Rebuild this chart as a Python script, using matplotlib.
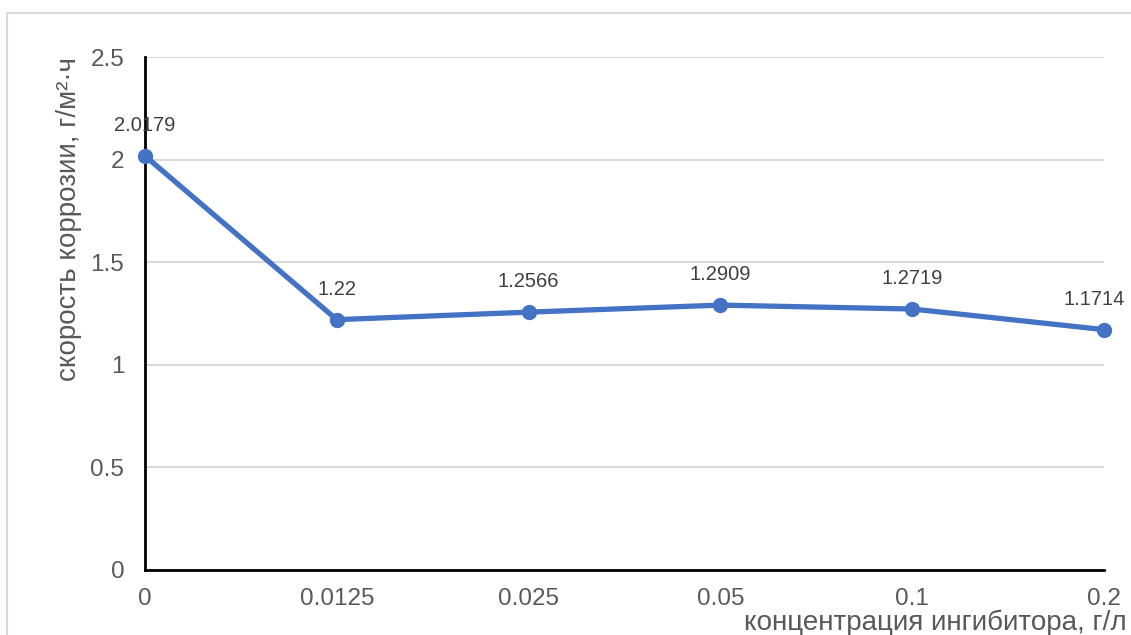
import matplotlib
matplotlib.use("Agg")
import matplotlib.pyplot as plt
from matplotlib.patches import Rectangle

# concentration of inhibitor (categories) and corrosion rate
concentrations = ['0', '0.0125', '0.025', '0.05', '0.1', '0.2']
corrosion_rate = [2.0179, 1.22, 1.2566, 1.2909, 1.2719, 1.1714]
y_ticks = [0, 0.5, 1, 1.5, 2, 2.5]

plt.rcParams['font.family'] = ['Liberation Sans', 'DejaVu Sans']

fig = plt.figure(figsize=(11.31, 6.35), dpi=100)
ax = fig.add_axes([0.1282, 0.1024, 0.8479, 0.8078])

# light chart frame
fig.patches.append(Rectangle((7 / 1131, -0.1), 1.2, 1 - 13 / 635 + 0.1,
                             transform=fig.transFigure, fill=False,
                             edgecolor='#D9D9D9', linewidth=1.5, zorder=0))

x = list(range(len(concentrations)))
ax.plot(x, corrosion_rate, color='#4472C4', linewidth=3.8, marker='o',
        markersize=10, clip_on=False, zorder=5)

for xi, v in zip(x, corrosion_rate):
    # the last label is nudged left so it stays inside the chart area
    dx = -7 if xi == x[-1] else 0
    ax.annotate(f'{v:g}', (xi, v), xytext=(dx, 15), textcoords='offset points',
                ha='center', va='bottom', fontsize=14.5, color='#404040')

ax.set_xlim(0, len(concentrations) - 1)
ax.set_ylim(0, 2.5)
ax.set_xticks(x)
ax.set_xticklabels(concentrations)
ax.set_yticks(y_ticks)
ax.set_yticklabels([f'{t:g}' for t in y_ticks])
ax.tick_params(length=0, labelsize=17.5, colors='#595959', pad=13)
ax.tick_params(axis='y', pad=15)

ax.grid(axis='y', color='#D9D9D9', linewidth=1.5)
ax.set_axisbelow(True)
for side in ['top', 'right']:
    ax.spines[side].set_visible(False)
for side in ['left', 'bottom']:
    ax.spines[side].set_color('black')
    ax.spines[side].set_linewidth(2)

fig.text(0.9965, 0.02, 'концентрация ингибитора, г/л', ha='right', va='center',
         fontsize=20, color='#595959')
fig.text(0.061, 1 - 57 / 635, 'скорость коррозии, г/м²·ч', rotation=90,
         ha='center', va='top', fontsize=20, color='#595959')

fig.savefig('out.png', dpi=100)
